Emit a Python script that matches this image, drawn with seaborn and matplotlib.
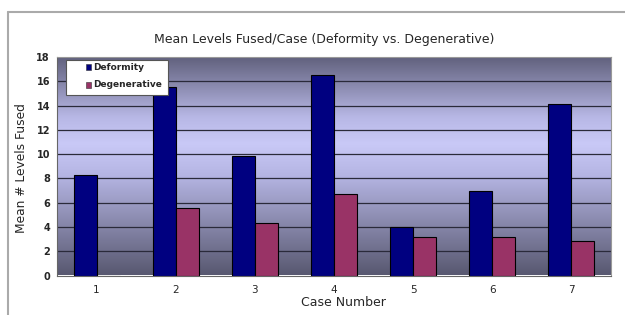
import numpy as np
import pandas as pd
import matplotlib
matplotlib.use("Agg")
import matplotlib.pyplot as plt
from matplotlib.colors import LinearSegmentedColormap
from matplotlib.lines import Line2D
from matplotlib.patches import Rectangle
import seaborn as sns

# values
cases = ["1", "2", "3", "4", "5", "6", "7"]
deformity = [8.3, 15.5, 9.85, 16.5, 4.0, 7.0, 14.15]
degenerative = [0.0, 5.55, 4.35, 6.7, 3.15, 3.15, 2.85]
series = ["Deformity", "Degenerative"]
colors = ["#000080", "#993366"]

df = pd.concat([
    pd.DataFrame({"Case": cases, "Mean": deformity, "Type": series[0]}),
    pd.DataFrame({"Case": cases, "Mean": degenerative, "Type": series[1]}),
])

sns.set_style("white")
plt.rcParams['font.family'] = ['DejaVu Sans']

W, H = 625, 315
fig = plt.figure(figsize=(W / 100, H / 100), dpi=100)
ax = fig.add_axes([57 / W, 1 - 275.5 / H, 554 / W, 218.5 / H])

# gradient background (dark - lavender - dark)
grad = LinearSegmentedColormap.from_list(
    "bg", [(0.0, "#585870"), (0.45, "#b4b4e2"), (0.6, "#c9c9f7"),
           (0.72, "#b8b8e6"), (1.0, "#60607c")])
ax.imshow(np.linspace(0, 1, 256).reshape(-1, 1), cmap=grad, aspect="auto",
          extent=[-0.5, 6.5, 0, 18], origin="lower", zorder=0)

for yv in range(2, 18, 2):
    ax.axhline(yv, color="#2a2a3a", lw=0.9, zorder=1)

sns.barplot(data=df, x="Case", y="Mean", hue="Type", ax=ax,
            palette=colors, width=0.58, gap=0, legend=False,
            edgecolor="black", linewidth=0.8, saturation=1, zorder=2)

ax.set_xlim(-0.5, 6.5)
ax.set_ylim(0, 18)
ax.set_xlabel("")
ax.set_ylabel("")
ax.set_yticks(range(0, 19, 2))
ax.set_yticklabels([str(v) for v in range(0, 19, 2)], fontsize=7, fontweight="bold")
ax.set_xticks(range(7))
ax.set_xticklabels(cases, fontsize=7.5)
ax.set_xticks(np.arange(-0.5, 7, 1), minor=True)
ax.tick_params(axis="x", which="major", length=0, pad=7)
ax.tick_params(axis="x", which="minor", length=3, width=0.8, direction="out", color="#444444")
ax.tick_params(axis="y", length=3, width=0.8, direction="out", color="#444444", pad=2)

for side in ["top", "right"]:
    ax.spines[side].set_color("#999999")
    ax.spines[side].set_linewidth(0.8)
for side in ["left", "bottom"]:
    ax.spines[side].set_color("#666666")
    ax.spines[side].set_linewidth(0.8)

fig.text(324 / W, 1 - 39 / H, "Mean Levels Fused/Case (Deformity vs. Degenerative)",
         fontsize=9, ha="center", va="center")
fig.text(343 / W, 1 - 303 / H, "Case Number", fontsize=9, ha="center", va="center")
fig.text(22 / W, 1 - 168 / H, "Mean # Levels Fused", fontsize=8.8, ha="center",
         va="center", rotation=90)

# legend box drawn in pixel positions
px = lambda x, y: (x / W, 1 - y / H)
fig.add_artist(Rectangle(px(66, 95), 102 / W, 35 / H, transform=fig.transFigure,
                         facecolor="white", edgecolor="#555555", lw=0.8, zorder=5))
for i, (name, c) in enumerate(zip(series, colors)):
    yy = 67 + 18 * i
    fig.add_artist(Rectangle(px(86, yy + 2.5), 5 / W, 5 / H, transform=fig.transFigure,
                             facecolor=c, edgecolor="#333333", lw=0.4, zorder=6))
    fig.text(*px(93, yy), name, fontsize=6.5, fontweight="bold", ha="left",
             va="center", zorder=6)

# outer chart frame (left and top edges visible)
fig.add_artist(Line2D([8 / W, 8 / W], [0.0, 1 - 12 / H], color="#aaaaaa", lw=1.5,
                      transform=fig.transFigure))
fig.add_artist(Line2D([8 / W, 1.0], [1 - 12 / H, 1 - 12 / H], color="#aaaaaa", lw=1.5,
                      transform=fig.transFigure))

fig.savefig("out.png", dpi=100)
